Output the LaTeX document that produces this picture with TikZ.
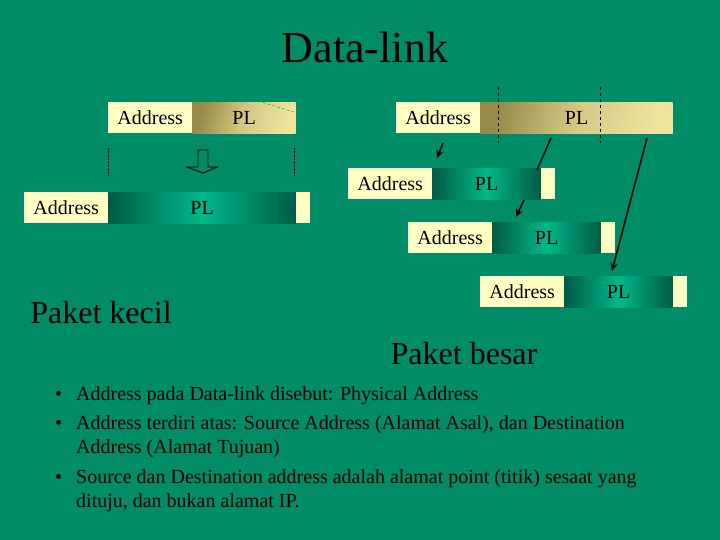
\documentclass[tikz,border=0pt]{standalone}
\usepackage{fontspec}
\setmainfont{Liberation Serif}
\usetikzlibrary{arrows.meta,positioning}

\definecolor{bgdark}{RGB}{0,140,102}
\definecolor{bglight}{RGB}{0,198,146}
\definecolor{cream}{RGB}{255,255,196}
\definecolor{olivedk}{RGB}{150,138,72}
\definecolor{khaki}{RGB}{238,228,158}
\definecolor{tealdk}{RGB}{0,92,70}
\definecolor{teallt}{RGB}{0,184,138}

\begin{document}
\begin{tikzpicture}[x=1pt,y=1pt,
    addr/.style={fill=cream,minimum width=84pt,minimum height=31pt,inner sep=0pt,font=\fontsize{20}{22}\selectfont},
    plolive/.style={left color=olivedk,right color=khaki,middle color=khaki!70!olivedk,shading angle=75,
        minimum height=31pt,inner sep=0pt,font=\fontsize{20}{22}\selectfont},
    plteal/.style={left color=tealdk,right color=tealdk,middle color=teallt,
        minimum height=31pt,inner sep=0pt,font=\fontsize{20}{22}\selectfont},
    tailbox/.style={fill=cream,minimum width=14pt,minimum height=31pt,inner sep=0pt},
    hop/.style={line width=1.5pt,-{Stealth[length=8pt,width=7pt]}},
    bigtext/.style={font=\fontsize{32}{36}\selectfont},
    bullets/.style={anchor=north west,align=left,inner sep=0pt,font=\fontsize{20}{24}\selectfont}]

    % background
    \shade[top color=bgdark,middle color=bglight,bottom color=bgdark] (0,0) rectangle (720,-540);
    \useasboundingbox (0,0) rectangle (720,-540);

    \node (title) at (365,-47) {\fontsize{44}{48}\selectfont Data-link};

    % paket kecil
    \node[addr,anchor=north west] (ka) at (108,-102) {Address};
    \node[plolive,minimum width=103pt,right=0pt of ka] (kp) {PL};
    \draw[densely dashed,thin,green!60!black] (258,-101) -- (294,-112);
    \draw[densely dotted,thin] (108,-148) -- (108,-175);
    \draw[densely dotted,thin] (294,-148) -- (294,-175);
    \draw[line width=0.9pt,black] (198,-150) -- (208,-150) -- (208,-167) -- (217,-167)
        -- (203,-173) -- (187,-167) -- (198,-167) -- cycle;

    \node[addr,anchor=north west] (sa) at (24,-192) {Address};
    \node[plteal,minimum width=187pt,right=0pt of sa] (sp) {PL};
    \node[tailbox,right=0pt of sp] (st) {};
    \node[bigtext] (kecil) at (101,-313) {Paket kecil};

    % paket besar
    \node[addr,anchor=north west] (ba) at (396,-102) {Address};
    \node[plolive,minimum width=192pt,right=0pt of ba] (bp) {PL};
    \draw[dashed,thin] (498,-87) -- (498,-143);
    \draw[dashed,thin] (600,-87) -- (600,-143);

    \node[addr,anchor=north west] (f1a) at (348,-168) {Address};
    \node[plteal,minimum width=108pt,right=0pt of f1a] (f1p) {PL};
    \node[tailbox,right=0pt of f1p] (f1t) {};

    \node[addr,anchor=north west] (f2a) at (408,-222) {Address};
    \node[plteal,minimum width=108pt,right=0pt of f2a] (f2p) {PL};
    \node[tailbox,right=0pt of f2p] (f2t) {};

    \node[addr,anchor=north west] (f3a) at (480,-276) {Address};
    \node[plteal,minimum width=108pt,right=0pt of f3a] (f3p) {PL};
    \node[tailbox,right=0pt of f3p] (f3t) {};

    \node[bigtext] (besar) at (464,-354) {Paket besar};

    % pecahan
    \draw[hop] (443,-143) -- (437,-158);
    \draw[line width=1.5pt] (551,-138) -- (537,-170);
    \draw[hop] (524,-200) -- (516,-217);
    \draw[hop] (647,-138) -- (612,-271);

    % keterangan
    \node[bullets] (b1) at (55,-386) {•\hspace{14pt}Address pada Data-link disebut: Physical Address};
    \node[bullets] (b2) at (55,-415) {•\hspace{14pt}Address terdiri atas: Source Address (Alamat Asal), dan Destination\\
        \hspace{21pt}Address (Alamat Tujuan)};
    \node[bullets] (b3) at (55,-469) {•\hspace{14pt}Source dan Destination address adalah alamat point (titik) sesaat yang\\
        \hspace{21pt}dituju, dan bukan alamat IP.};
\end{tikzpicture}
\end{document}
